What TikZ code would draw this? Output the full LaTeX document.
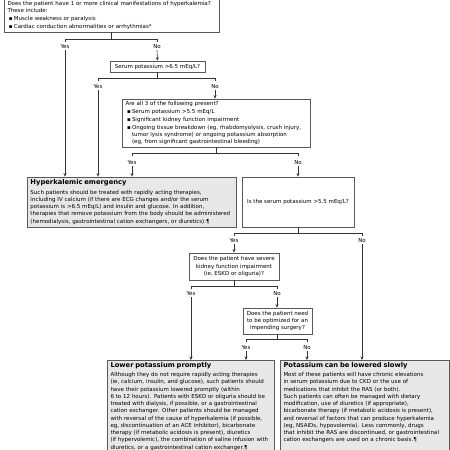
\documentclass[tikz,border=0pt]{standalone}
\usepackage{fontspec}
\setmainfont{DejaVu Sans}
\usetikzlibrary{arrows.meta}
\newcommand{\bul}{\hspace*{1.5pt}\makebox[5pt][l]{▪}}
\newcommand{\ind}{\hspace*{6.5pt}}
\newcommand{\lx}[1]{\mbox{#1}}
\newcommand{\ttlfont}{\fontsize{6.75}{8}\selectfont\bfseries}
\newcommand{\deepend}{\rule[-30pt]{0pt}{30pt}}
\begin{document}
\begin{tikzpicture}[x=1pt,y=-1pt,
  box/.style={draw=black!65, line width=0.7pt, inner xsep=3.5pt, inner ysep=2pt,
    font=\fontsize{5.5}{7.25}\selectfont, align=left},
  cbox/.style={box, align=center},
  gbox/.style={box, fill=black!9},
  lbl/.style={font=\fontsize{5.5}{6}\selectfont, inner sep=1pt},
  con/.style={draw=black!80, line width=0.6pt},
  arr/.style={con, -{Stealth[length=3.5pt,width=3pt]}}]
\useasboundingbox (0,0) rectangle (450,450);
\clip (0,0) rectangle (450,450);
\fill[white] (0,0) rectangle (450,450);

% boxes
\node[box, minimum width=215pt, minimum height=33pt, text width=208pt] (b1) at (111.5,15.5)
 {\lx{Does the patient have 1 or more clinical manifestations of hyperkalemia?}\\
  These include:\\[0.7pt]
  \bul Muscle weakness or paralysis\\[0.7pt]
  \bul Cardiac conduction abnormalities or arrhythmias*};
\node[cbox, minimum width=95pt, minimum height=11pt, inner ysep=1pt] (serum) at (157.5,66.5)
 {Serum potassium >6.5 mEq/L?};
\node[box, minimum width=188pt, minimum height=48pt, text width=181pt] (b3) at (216,123)
 {Are all 3 of the following present?\\[0.7pt]
  \bul Serum potassium >5.5 mEq/L\\[0.7pt]
  \bul Significant kidney function impairment\\[0.7pt]
  \lx{\bul Ongoing tissue breakdown (eg, rhabdomyolysis, crush injury,}\\
  \lx{\ind tumor lysis syndrome) or ongoing potassium absorption}\\
  \lx{\ind (eg, from significant gastrointestinal bleeding)}};
\node[gbox, minimum width=209pt, minimum height=50pt, text width=202pt] (emerg) at (131.5,202)
 {{\ttlfont Hyperkalemic emergency}\\[2pt]
  \lx{Such patients should be treated with rapidly acting therapies,}\\
  \lx{including IV calcium (if there are ECG changes and/or the serum}\\
  \lx{potassium is >6.5 mEq/L) and insulin and glucose. In addition,}\\
  \lx{therapies that remove potassium from the body should be administered}\\
  \lx{(hemodialysis, gastrointestinal cation exchangers, or diuretics).¶}};
\node[cbox, minimum width=112pt, minimum height=50pt] (b4) at (298,202)
 {Is the serum potassium >5.5 mEq/L?};
\node[cbox, minimum width=90pt, minimum height=27pt] (b5) at (234,266.5)
 {Does the patient have severe\\kidney function impairment\\(ie, ESKD or oliguria)?};
\node[cbox, minimum width=69pt, minimum height=26pt] (b6) at (277.5,321)
 {Does the patient need\\to be optimized for an\\impending surgery?};
\node[gbox, anchor=north, text width=160pt] (low) at (190.5,360)
 {{\ttlfont Lower potassium promptly}\\[2pt]
  \lx{Although they do not require rapidly acting therapies}\\
  \lx{(ie, calcium, insulin, and glucose), such patients should}\\
  \lx{have their potassium lowered promptly (within}\\
  \lx{6 to 12 hours). Patients with ESKD or oliguria should be}\\
  \lx{treated with dialysis, if possible, or a gastrointestinal}\\
  \lx{cation exchanger. Other patients should be managed}\\
  \lx{with reversal of the cause of hyperkalemia (if possible,}\\
  \lx{eg, discontinuation of an ACE inhibitor), bicarbonate}\\
  \lx{therapy (if metabolic acidosis is present), diuretics}\\
  \lx{(if hypervolemic), the combination of saline infusion with}\\
  \lx{diuretics, or a gastrointestinal cation exchanger.¶}\deepend};
\node[gbox, anchor=north, text width=162pt] (slow) at (364.5,360)
 {{\ttlfont Potassium can be lowered slowly}\\[2pt]
  \lx{Most of these patients will have chronic elevations}\\
  \lx{in serum potassium due to CKD or the use of}\\
  \lx{medications that inhibit the RAS (or both).}\\
  \lx{Such patients can often be managed with dietary}\\
  \lx{modification, use of diuretics (if appropriate),}\\
  \lx{bicarbonate therapy (if metabolic acidosis is present),}\\
  \lx{and reversal of factors that can produce hyperkalemia}\\
  \lx{(eg, NSAIDs, hypovolemia). Less commonly, drugs}\\
  \lx{that inhibit the RAS are discontinued, or gastrointestinal}\\
  \lx{cation exchangers are used on a chronic basis.¶}\deepend};

% branch 1
\coordinate (y1) at (65,39); \coordinate (n1) at (157,39);
\draw[con] (b1.south) -- (b1.south |- y1);
\draw[con] ([yshift=-3pt]y1) -- (y1) -- (n1) -- ([yshift=-3pt]n1);
\node[lbl] (ly1) at (65,47) {Yes};
\node[lbl] (ln1) at (157,47) {No};
\draw[arr] (ly1.south) -- (ly1.south |- emerg.north);
\draw[arr] (ln1.south) -- (serum.north);

% branch 2
\coordinate (y2) at (98,78); \coordinate (n2) at (215,78);
\draw[con] (serum.south) -- (serum.south |- y2);
\draw[con] ([yshift=-3pt]y2) -- (y2) -- (n2) -- ([yshift=-3pt]n2);
\node[lbl] (ly2) at (98,87) {Yes};
\node[lbl] (ln2) at (215,87) {No};
\draw[arr] (ly2.south) -- (ly2.south |- emerg.north);
\draw[arr] (ln2.south) -- (ln2.south |- b3.north);

% branch 3
\coordinate (y3) at (132,153); \coordinate (n3) at (298,153);
\draw[con] (b3.south) -- (b3.south |- y3);
\draw[con] ([yshift=-3pt]y3) -- (y3) -- (n3) -- ([yshift=-3pt]n3);
\node[lbl] (ly3) at (132,163) {Yes};
\node[lbl] (ln3) at (298,163) {No};
\draw[arr] (ly3.south) -- (ly3.south |- emerg.north);
\draw[arr] (ln3.south) -- (b4.north);

% branch 4
\coordinate (y4) at (234,233); \coordinate (n4) at (362,233);
\draw[con] (b4.south) -- (b4.south |- y4);
\draw[con] ([yshift=-3pt]y4) -- (y4) -- (n4) -- ([yshift=-3pt]n4);
\node[lbl] (ly4) at (234,241) {Yes};
\node[lbl] (ln4) at (362,241) {No};
\draw[arr] (ly4.south) -- (b5.north);
\draw[arr] (ln4.south) -- (ln4.south |- slow.north);

% branch 5
\coordinate (y5) at (191,286); \coordinate (n5) at (277,286);
\draw[con] (b5.south) -- (b5.south |- y5);
\draw[con] ([yshift=-3pt]y5) -- (y5) -- (n5) -- ([yshift=-3pt]n5);
\node[lbl] (ly5) at (191,294) {Yes};
\node[lbl] (ln5) at (277,294) {No};
\draw[arr] (ly5.south) -- (ly5.south |- low.north);
\draw[arr] (ln5.south) -- (ln5.south |- b6.north);

% branch 6
\coordinate (y6) at (246,339); \coordinate (n6) at (307,339);
\draw[con] (b6.south) -- (b6.south |- y6);
\draw[con] ([yshift=-3pt]y6) -- (y6) -- (n6) -- ([yshift=-3pt]n6);
\node[lbl] (ly6) at (246,348) {Yes};
\node[lbl] (ln6) at (307,348) {No};
\draw[arr] (ly6.south) -- (ly6.south |- low.north);
\draw[arr] (ln6.south) -- (ln6.south |- slow.north);
\end{tikzpicture}
\end{document}
